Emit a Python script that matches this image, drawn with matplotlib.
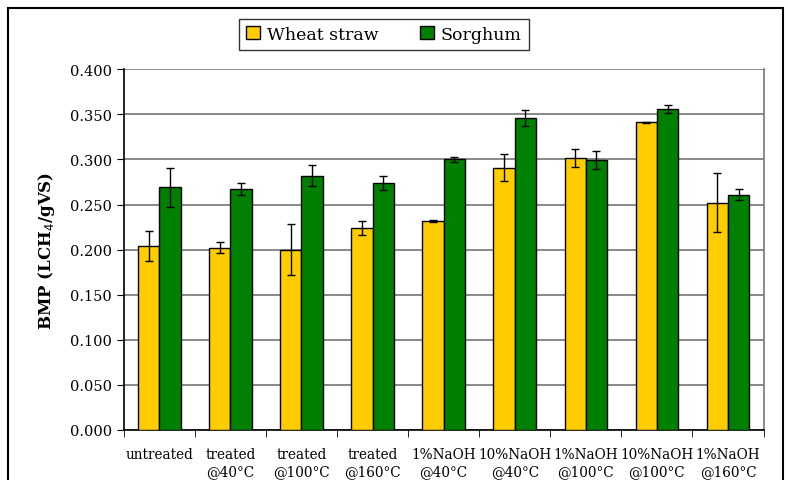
import numpy as np
import matplotlib
matplotlib.use('Agg')
import matplotlib.pyplot as plt
from matplotlib.patches import Rectangle

# data
categories = ['untreated', 'treated\n@40°C', 'treated\n@100°C', 'treated\n@160°C',
              '1%NaOH\n@40°C', '10%NaOH\n@40°C', '1%NaOH\n@100°C', '10%NaOH\n@100°C',
              '1%NaOH\n@160°C']
wheat = [0.204, 0.202, 0.200, 0.224, 0.232, 0.291, 0.302, 0.341, 0.252]
sorghum = [0.269, 0.267, 0.282, 0.274, 0.300, 0.346, 0.299, 0.356, 0.261]
wheat_err = [0.017, 0.006, 0.028, 0.008, 0.001, 0.015, 0.010, 0.001, 0.033]
sorghum_err = [0.022, 0.007, 0.012, 0.008, 0.003, 0.009, 0.010, 0.004, 0.006]
yticks = np.arange(0, 0.401, 0.05)

plt.rcParams['font.family'] = ['DejaVu Serif']

fig = plt.figure(figsize=(7.88, 4.81), dpi=100)
ax = fig.add_axes([0.157, 0.104, 0.812, 0.750])

x = np.arange(len(categories))
w = 0.3
ax.bar(x - w / 2, wheat, w, color='#FFCC00', edgecolor='black', linewidth=1, zorder=3,
       label='Wheat straw')
ax.bar(x + w / 2, sorghum, w, color='#008000', edgecolor='black', linewidth=1, zorder=3,
       label='Sorghum')
ax.errorbar(x - w / 2, wheat, yerr=wheat_err, fmt='none', ecolor='black', elinewidth=1,
            capsize=3, capthick=1, zorder=4)
ax.errorbar(x + w / 2, sorghum, yerr=sorghum_err, fmt='none', ecolor='black', elinewidth=1,
            capsize=3, capthick=1, zorder=4)

ax.set_xlim(-0.5, len(categories) - 0.5)
ax.set_ylim(0, 0.4)
ax.set_yticks(yticks)
ax.set_yticklabels(['%.3f' % v for v in yticks], fontsize=10.5)
ax.yaxis.grid(True, color='#808080', linewidth=1.3, zorder=0)

ax.set_xticks(x)
ax.set_xticklabels(categories, fontsize=9.8, linespacing=1.3)
ax.tick_params(axis='x', which='major', length=0, pad=12)
ax.set_xticks(np.arange(-0.5, len(categories), 1), minor=True)
ax.tick_params(axis='x', which='minor', length=5, direction='out', color='black')
ax.tick_params(axis='y', length=5, direction='out', color='black')

ax.spines['top'].set_visible(False)
ax.spines['right'].set_color('#808080')
ax.spines['right'].set_linewidth(1.3)
ax.spines['left'].set_linewidth(1.2)
ax.spines['bottom'].set_linewidth(1.2)

ax.set_ylabel('BMP (LCH$_4$/gVS)', fontsize=12, fontweight='bold', labelpad=9)

leg = fig.legend(loc='center', bbox_to_anchor=(0.487, 0.927), ncol=2, fontsize=12.5,
                 frameon=True, fancybox=False, edgecolor='black', handlelength=0.8,
                 handleheight=0.8, handletextpad=0.4, columnspacing=2.4,
                 borderpad=0.4)
leg.get_frame().set_linewidth(1)

# outer chart frame
fig.patches.append(Rectangle((0.010, -0.05), 0.984, 1.031, transform=fig.transFigure,
                             fill=False, edgecolor='black', linewidth=1.5))

fig.savefig('out.png', dpi=100)
